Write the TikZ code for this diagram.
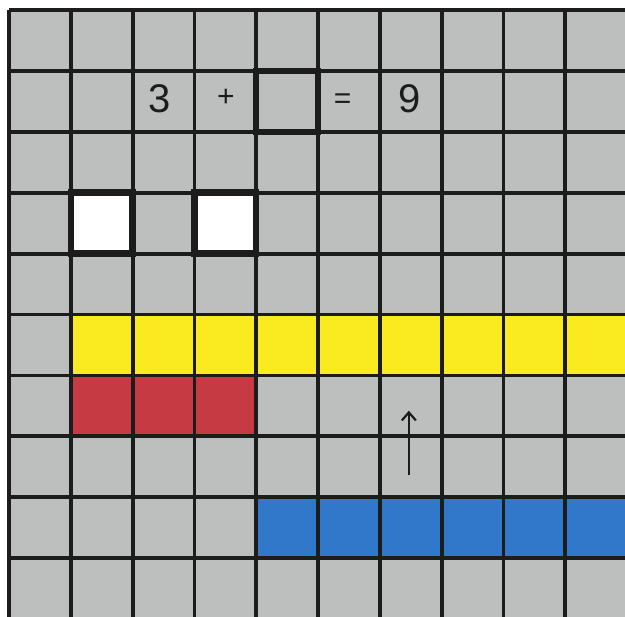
\documentclass[tikz,border=0pt]{standalone}
\usepackage{fontspec}
\setmainfont{Liberation Sans}
\usetikzlibrary{arrows.meta}
\definecolor{cellgray}{RGB}{189,191,191}
\definecolor{cellyellow}{RGB}{250,234,32}
\definecolor{cellred}{RGB}{198,58,68}
\definecolor{cellblue}{RGB}{50,120,202}
\definecolor{gridline}{RGB}{28,28,28}
\tikzset{
  gridrule/.style={gridline, line width=3.8pt},
  thickbox/.style={gridline, line width=6.5pt},
  digit/.style={font=\fontsize{40}{40}\selectfont, text=gridline, inner sep=0pt},
  opsign/.style={font=\fontsize{30}{30}\selectfont, text=gridline, inner sep=0pt},
  uparrow/.style={gridline, line width=2.2pt, -{Straight Barb[length=8pt,width=14pt,line width=2.2pt]}}
}
\begin{document}
\begin{tikzpicture}[x=61.8pt, y=-60.9pt]
\useasboundingbox (-0.1456,-0.1642) rectangle (9.9676,9.9507);
\clip (-0.1456,-0.1642) rectangle (9.9676,9.9507);
\fill[white] (-0.1456,-0.1642) rectangle (9.9676,9.9507);
\fill[cellgray] (0,0) rectangle (10,10.2);
% coloured cells
\fill[cellyellow] (1,5) rectangle (10,6);
\fill[cellred] (1,6) rectangle (4,7);
\fill[cellblue] (4,8) rectangle (10,9);
\fill[white] (1,3) rectangle (2,4);
\fill[white] (3,3) rectangle (4,4);
% grid
\foreach \i in {0,...,10} {
  \draw[gridrule] (\i,0) -- (\i,10.3);
  \draw[gridrule] (0,\i) -- (10.3,\i);
}
% thick boxes
\draw[thickbox] (4,1) rectangle (5,2);
\draw[thickbox] (1,3) rectangle (2,4);
\draw[thickbox] (3,3) rectangle (4,4);
% equation
\node[digit] (three) at (2.44,1.46) {3};
\node[opsign] (plus) at (3.51,1.45) {+};
\node[opsign] (equals) at (5.4,1.5) {=};
\node[digit] (nine) at (6.48,1.45) {9};
% arrow
\coordinate (arrowtail) at (6.47,7.64);
\coordinate (arrowhead) at (6.47,6.58);
\draw[uparrow] (arrowtail) -- (arrowhead);
\end{tikzpicture}
\end{document}
